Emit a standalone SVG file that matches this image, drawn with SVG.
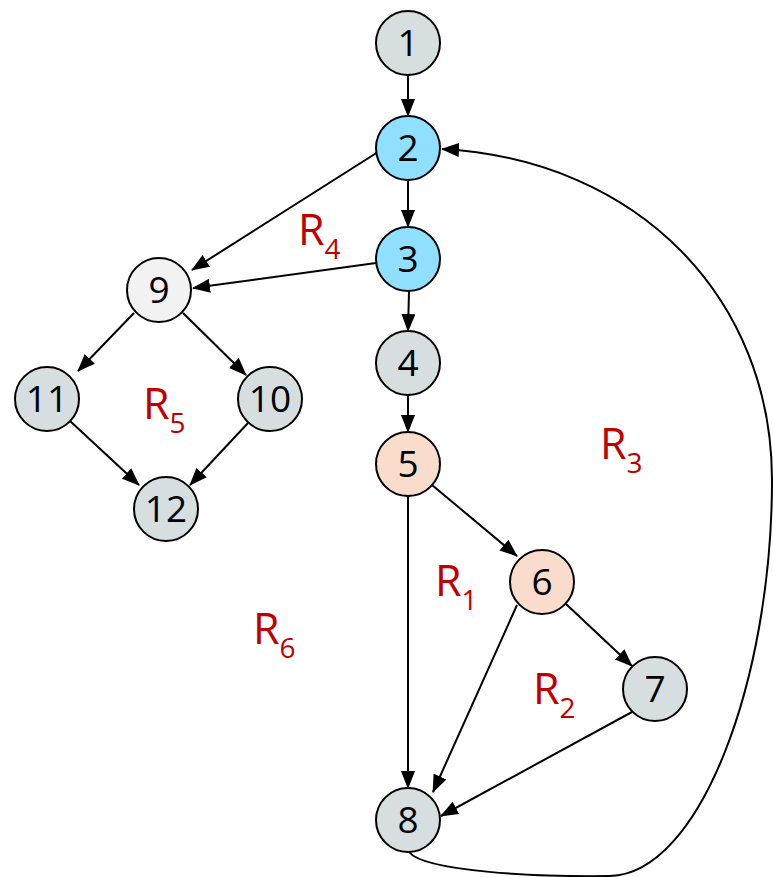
<svg xmlns="http://www.w3.org/2000/svg" width="773" height="877" viewBox="0 0 773 877">
<style>
.n{stroke:#000;stroke-width:2}
.g{fill:#d6dedf}.b{fill:#8fdffd}.p{fill:#f9dccb}.w{fill:#f2f2f2}
.t{font-family:"Open Sans","Liberation Sans",sans-serif;font-size:37px;text-anchor:middle;fill:#000}
.r{font-family:"Open Sans","Liberation Sans",sans-serif;font-size:43px;fill:#c00000}
.s{font-size:28px}
.e{fill:none;stroke:#000;stroke-width:2;marker-end:url(#a)}
</style>
<defs>
<marker id="a" markerUnits="userSpaceOnUse" markerWidth="18" markerHeight="14" viewBox="0 0 18 14" refX="17" refY="7" orient="auto">
<path d="M0,0 L18,7 L0,14 Z" fill="#000"/>
</marker>
</defs>
<g id="connectors">
<path class="e" d="M408,75 L408,116"/>
<path class="e" d="M408,180 L408,227"/>
<path class="e" d="M409,291 L408,331"/>
<path class="e" d="M408,395 L408,432"/>
<path class="e" d="M432,485 L517,556"/>
<path class="e" d="M566,604 L632,666"/>
<path class="e" d="M408,496 L408,788"/>
<path class="e" d="M517,605 L433,792"/>
<path class="e" d="M632,712 L441,816"/>
<path class="e" d="M378,152 L192,270"/>
<path class="e" d="M376,263 L193,288"/>
<path class="e" d="M134,313 L78,371"/>
<path class="e" d="M183,313 L246,375"/>
<path class="e" d="M70,421 L139,485"/>
<path class="e" d="M248,423 L190,485"/>
<path class="e" d="M409,852 C425,872 540,877 610,876 C700,874 772,680 772,480 C772,300 640,160 442,149"/>
</g>
<g id="n1"><circle class="n g" cx="408" cy="43" r="32"/><text class="t" x="408" y="56">1</text></g>
<g id="n2"><circle class="n b" cx="408" cy="148" r="32"/><text class="t" x="408" y="161">2</text></g>
<g id="n3"><circle class="n b" cx="408" cy="259" r="32"/><text class="t" x="408" y="272">3</text></g>
<g id="n4"><circle class="n g" cx="408" cy="363" r="32"/><text class="t" x="408" y="376">4</text></g>
<g id="n5"><circle class="n p" cx="408" cy="464" r="32"/><text class="t" x="408" y="477">5</text></g>
<g id="n6"><circle class="n p" cx="542" cy="582" r="32"/><text class="t" x="542" y="595">6</text></g>
<g id="n7"><circle class="n g" cx="655" cy="689" r="32"/><text class="t" x="655" y="702">7</text></g>
<g id="n8"><circle class="n g" cx="408" cy="820" r="32"/><text class="t" x="408" y="833">8</text></g>
<g id="n9"><circle class="n w" cx="159" cy="290" r="32"/><text class="t" x="159" y="303">9</text></g>
<g id="n10"><circle class="n g" cx="270" cy="399" r="32"/><text class="t" x="270" y="412">10</text></g>
<g id="n11"><circle class="n g" cx="47" cy="399" r="32"/><text class="t" x="47" y="412">11</text></g>
<g id="n12"><circle class="n g" cx="166" cy="509" r="32"/><text class="t" x="166" y="522">12</text></g>
<g id="labels">
<text class="r" x="298" y="245">R<tspan class="s" dy="14">4</tspan></text>
<text class="r" x="143" y="419">R<tspan class="s" dy="14">5</tspan></text>
<text class="r" x="600" y="459">R<tspan class="s" dy="14">3</tspan></text>
<text class="r" x="435" y="596">R<tspan class="s" dy="14">1</tspan></text>
<text class="r" x="533" y="704">R<tspan class="s" dy="14">2</tspan></text>
<text class="r" x="253" y="644">R<tspan class="s" dy="14">6</tspan></text>
</g>
</svg>
